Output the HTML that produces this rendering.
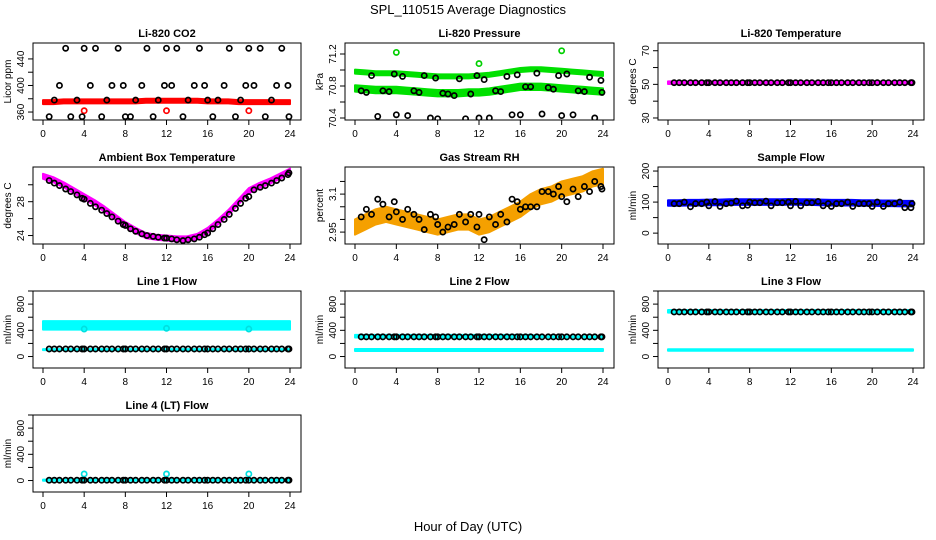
<!DOCTYPE html>
<html><head><meta charset="utf-8"><style>
html,body{margin:0;padding:0;background:#fff;}
svg{display:block;font-family:"Liberation Sans",sans-serif;}
</style></head><body>
<svg id="chart" width="936" height="540" viewBox="0 0 936 540">
<text x="468" y="14" text-anchor="middle" font-size="13">SPL_110515  Average Diagnostics</text>
<text x="468" y="531" text-anchor="middle" font-size="13">Hour of Day (UTC)</text>
</svg>
<script>
const hours = [0,1,2,3,4,5,6,7,8,9,10,11,12,13,14,15,16,17,18,19,20,21,22,23,24];
const times = [0.6,1.1,1.6,2.2,2.7,3.3,3.8,4.0,4.6,5.1,5.7,6.2,6.7,7.3,7.8,8.0,8.5,9.0,9.6,10.1,10.7,11.2,11.8,12.0,12.5,13.0,13.6,14.1,14.7,15.2,15.7,16.0,16.5,17.0,17.6,18.1,18.7,19.2,19.7,20.0,20.5,21.1,21.6,22.2,22.7,23.2,23.8,23.9];
const xTicks = [0,4,8,12,16,20,24];
const outlierHours = [4,12,20];

const co2Center = [375,375,376,376,376,376,376,376,376,376,377,377,377,377,377,377,376,376,376,375,375,375,375,375,375];
const co2Spread = [3,3,3,3,3,3,3,3,3,3,3,3,3,3,3,3,3,3,3,3,3,3,3,3,3];
const co2Points = [353,378,400,456,353,378,353,456,400,456,353,378,400,456,400,353,353,378,400,456,353,378,400,456,400,456,353,378,400,456,400,378,353,378,400,456,353,378,400,456,400,456,353,378,400,456,400,353];
const co2Outliers = [362,362,362];

const presUpCenter = [70.98,70.97,70.96,70.96,70.96,70.95,70.94,70.93,70.92,70.92,70.92,70.92,70.93,70.94,70.96,70.98,71.0,71.01,71.01,71.0,70.99,70.98,70.97,70.96,70.95];
const presUpSpread = [0.025,0.025,0.025,0.025,0.025,0.025,0.025,0.025,0.025,0.025,0.025,0.025,0.025,0.025,0.025,0.025,0.025,0.025,0.025,0.025,0.025,0.025,0.025,0.025,0.025];
const presLoCenter = [70.77,70.76,70.75,70.75,70.75,70.74,70.73,70.72,70.71,70.71,70.71,70.72,70.72,70.73,70.75,70.77,70.79,70.79,70.79,70.78,70.77,70.76,70.75,70.74,70.73];
const presLoSpread = [0.04,0.04,0.04,0.04,0.04,0.04,0.04,0.04,0.04,0.04,0.04,0.04,0.04,0.04,0.04,0.04,0.04,0.04,0.04,0.04,0.04,0.04,0.04,0.04,0.04];
const presPoints = [70.74,70.72,70.93,70.42,70.74,70.73,70.95,70.44,70.92,70.43,70.74,70.72,70.93,70.40,70.90,70.39,70.71,70.70,70.68,70.89,70.39,70.70,70.93,70.40,70.88,70.40,70.74,70.73,70.92,70.44,70.94,70.44,70.79,70.79,70.96,70.45,70.78,70.76,70.93,70.43,70.95,70.44,70.74,70.73,70.91,70.40,70.87,70.72];
const presOutliers = [71.22,71.08,71.24];

const ltCenter = [51,51,51,51,51,51,51,51,51,51,51,51,51,51,51,51,51,51,51,51,51,51,51,51,51];
const ltSpread = [0.8,0.8,0.8,0.8,0.8,0.8,0.8,0.8,0.8,0.8,0.8,0.8,0.8,0.8,0.8,0.8,0.8,0.8,0.8,0.8,0.8,0.8,0.8,0.8,0.8];
const ltPoints = [51,51,51,51,51,51,51,51,51,51,51,51,51,51,51,51,51,51,51,51,51,51,51,51,51,51,51,51,51,51,51,51,51,51,51,51,51,51,51,51,51,51,51,51,51,51,51,51];

const ambCenter = [31.0,30.6,30.0,29.3,28.6,27.9,27.1,26.2,25.3,24.6,24.0,23.8,23.7,23.6,23.6,23.9,24.6,25.6,26.7,28.0,29.3,29.9,30.4,31.0,31.6];
const ambSpread = [0.3,0.3,0.3,0.3,0.3,0.3,0.3,0.3,0.3,0.3,0.3,0.3,0.3,0.3,0.3,0.3,0.3,0.3,0.3,0.3,0.3,0.3,0.3,0.3,0.3];
const ambPoints = [30.5,30.2,29.9,29.5,29.2,28.8,28.4,28.3,27.8,27.4,27.0,26.6,26.2,25.7,25.3,25.2,24.8,24.5,24.2,24.0,23.9,23.8,23.7,23.7,23.6,23.5,23.4,23.5,23.6,23.8,24.1,24.3,24.8,25.3,25.9,26.5,27.2,27.8,28.4,28.6,29.4,29.7,29.9,30.2,30.5,30.8,31.2,31.4];

const rhCenter = [2.97,2.99,3.01,3.02,3.01,3.00,2.99,2.98,2.97,2.98,2.99,2.99,2.97,2.98,3.00,3.02,3.04,3.07,3.09,3.10,3.12,3.13,3.14,3.16,3.17];
const rhSpread = [0.03,0.03,0.03,0.03,0.03,0.03,0.03,0.03,0.03,0.03,0.03,0.03,0.03,0.03,0.03,0.03,0.03,0.03,0.03,0.03,0.03,0.03,0.03,0.03,0.03];
const rhPoints = [3.01,3.04,3.02,3.08,3.06,3.01,3.07,3.03,3.00,3.04,3.02,3.00,2.96,3.02,3.01,2.98,2.95,2.97,2.98,3.02,2.99,3.02,2.97,3.02,2.92,3.01,2.98,3.02,2.99,3.08,3.07,3.04,3.05,3.05,3.05,3.11,3.11,3.10,3.13,3.09,3.07,3.12,3.09,3.13,3.11,3.15,3.13,3.12];

const sfCenter = [97,97,98,98,99,99,100,100,100,100,100,100,101,100,100,99,98,98,98,97,97,96,96,95,95];
const sfSpread = [9,9,9,9,9,9,9,9,9,9,9,9,9,9,9,9,9,9,9,9,9,9,9,9,9];
const sfPoints = [95,95,100,85,95,95,100,88,102,86,95,97,103,88,90,100,98,98,103,88,98,98,100,88,102,88,98,98,102,88,95,86,95,95,100,86,95,95,95,86,100,86,95,95,100,82,82,95];

const l1HighCenter = [475,475,475,475,475,475,475,475,475,475,475,475,475,475,475,475,475,475,475,475,475,475,475,475,475];
const l1HighSpread = [65,65,65,65,65,65,65,65,65,65,65,65,65,65,65,65,65,65,65,65,65,65,65,65,65];
const l1LowCenter = [105,105,105,105,105,105,105,105,105,105,105,105,105,105,105,105,105,105,105,105,105,105,105,105,105];
const l1LowSpread = [8,8,8,8,8,8,8,8,8,8,8,8,8,8,8,8,8,8,8,8,8,8,8,8,8];
const l1Points = [115,115,115,115,115,115,115,115,115,115,115,115,115,115,115,115,115,115,115,115,115,115,115,115,115,115,115,115,115,115,115,115,115,115,115,115,115,115,115,115,115,115,115,115,115,115,115,115];
const l1Outliers = [420,430,420];

const l2HighCenter = [310,310,310,310,310,310,310,310,310,310,310,310,310,310,310,310,310,310,305,300,300,300,300,300,300];
const l2HighSpread = [20,20,20,20,20,20,20,20,20,20,20,20,20,20,20,20,20,20,8,8,8,8,8,8,8];
const l2LowCenter = [100,100,100,100,100,100,100,100,100,100,100,100,100,100,100,100,100,100,100,100,100,100,100,100,100];
const l2LowSpread = [15,15,15,15,15,15,15,15,15,15,15,15,15,15,15,15,15,15,15,15,15,15,15,15,15];
const l2Points = [300,300,300,300,300,300,300,300,300,300,300,300,300,300,300,300,300,300,300,300,300,300,300,300,300,300,300,300,300,300,300,300,300,300,300,300,300,300,300,300,300,300,300,300,300,300,300,300];

const l3HighCenter = [690,690,690,690,690,690,690,690,690,690,690,690,690,690,690,690,690,690,690,690,690,690,690,690,690];
const l3HighSpread = [20,20,20,20,20,20,20,20,20,20,20,20,20,20,20,20,20,20,20,20,20,20,20,20,20];
const l3LowCenter = [100,100,100,100,100,100,100,100,100,100,100,100,100,100,100,100,100,100,100,100,100,100,100,100,100];
const l3LowSpread = [12,12,12,12,12,12,12,12,12,12,12,12,12,12,12,12,12,12,12,12,12,12,12,12,12];
const l3Points = [680,680,680,680,680,680,680,680,680,680,680,680,680,680,680,680,680,680,680,680,680,680,680,680,680,680,680,680,680,680,680,680,680,680,680,680,680,680,680,680,680,680,680,680,680,680,680,680];

const l4Center = [5,5,5,5,5,5,5,5,5,5,5,5,5,5,5,5,5,5,5,5,5,5,5,5,5];
const l4Spread = [8,8,8,8,8,8,8,8,8,8,8,8,8,8,8,8,8,8,8,8,8,8,8,8,8];
const l4Points = [5,5,5,5,5,5,5,5,5,5,5,5,5,5,5,5,5,5,5,5,5,5,5,5,5,5,5,5,5,5,5,5,5,5,5,5,5,5,5,5,5,5,5,5,5,5,5,5];
const l4Outliers = [100,100,100];

const NS = 'http://www.w3.org/2000/svg';
const svg = document.getElementById('chart');
const colX0 = [43,355,668], colX24 = [290,603,913];
function mk(tag, attrs, parent){const e=document.createElementNS(NS,tag);for(const k in attrs)e.setAttribute(k,attrs[k]);(parent||svg).appendChild(e);return e;}

function panel(key, col, row, title, ylab, ylim, yTicks, yLabels){
  const g = mk('g',{});
  
  
  const top = 43 + 124*row, h = 77;
  const x0 = colX0[col], x24 = colX24[col];
  const left = x0 - 10, right = x24 + 11;
  const xs = v => x0 + (x24 - x0) * v / 24;
  const ys = v => top + h * (ylim[1] - v) / (ylim[1] - ylim[0]);
  const p = {g, xs, ys, top, h, left, right};
  const clip = mk('clipPath',{id:'clip-'+key}, g);
  mk('rect',{x:left,y:top,width:right-left,height:h}, clip);
  p.plot = mk('g',{'clip-path':'url(#clip-'+key+')'}, g);
  
  
  const box = mk('rect',{x:left,y:top,width:right-left,height:h,fill:'none',stroke:'#000','stroke-width':1}, g);
  
  
  const t = mk('text',{x:(left+right)/2,y:top-6,'text-anchor':'middle','font-size':11,'font-weight':'bold'}, g);
  t.textContent = title;
  
  
  const by = top + h;
  mk('line',{x1:xs(0),x2:xs(24),y1:by,y2:by,stroke:'#000'}, g);
  xTicks.forEach(v=>{
    mk('line',{x1:xs(v),x2:xs(v),y1:by,y2:by+5,stroke:'#000'}, g);
    const tl = mk('text',{x:xs(v),y:by+17,'text-anchor':'middle','font-size':10}, g);
    tl.textContent = v;
    
    
  });
  mk('line',{x1:left,x2:left,y1:ys(yTicks[0]),y2:ys(yTicks[yTicks.length-1]),stroke:'#000'}, g);
  yTicks.forEach(v=>{
    mk('line',{x1:left-5,x2:left,y1:ys(v),y2:ys(v),stroke:'#000'}, g);
  });
  yLabels.forEach(v=>{
    const tl = mk('text',{x:0,y:0,'text-anchor':'middle','font-size':10,transform:`translate(${left-9},${ys(v)}) rotate(-90)`}, g);
    tl.textContent = v;
    
    
  });
  const yl = mk('text',{x:0,y:0,'text-anchor':'middle','font-size':10,transform:`translate(${left-22},${top+h/2}) rotate(-90)`}, g);
  yl.textContent = ylab;
  
  
  return p;
}
function band(p, center, spread, color, name){
  let pts = [];
  hours.forEach((hh,i)=>pts.push(p.xs(hh)+','+p.ys(center[i]+spread[i])));
  for(let i=hours.length-1;i>=0;i--) pts.push(p.xs(hours[i])+','+p.ys(center[i]-spread[i]));
  const e = mk('polygon',{points:pts.join(' '),fill:color,stroke:color,'stroke-width':2,'stroke-linejoin':'round'}, p.plot);
  
  
}
function points(p, tArr, vArr, color, name){
  const n = Math.min(tArr.length, vArr.length);
  for(let i=0;i<n;i++){
    const c = mk('circle',{cx:p.xs(tArr[i]),cy:p.ys(vArr[i]),r:2.6,fill:'none',stroke:color,'stroke-width':1.7}, p.plot);
    
    
  }
}

let p;
p = panel('co2',0,0,'Li-820 CO2','Licor ppm',[348,464],[360,380,400,420,440],[360,400,440]);
band(p, co2Center, co2Spread, '#ff0000', 'co2-band');
points(p, outlierHours, co2Outliers, '#ff0000', 'co2-outlier');
points(p, times, co2Points, '#000', 'co2-point');

p = panel('pressure',1,0,'Li-820 Pressure','kPa',[70.375,71.3375],[70.4,70.6,70.8,71.0,71.2],[70.4,70.8,71.2]);
band(p, presUpCenter, presUpSpread, '#00e000', 'pressure-upper-band');
band(p, presLoCenter, presLoSpread, '#00e000', 'pressure-lower-band');
points(p, outlierHours, presOutliers, '#00d000', 'pressure-outlier');
points(p, times, presPoints, '#000', 'pressure-point');

p = panel('li-temp',2,0,'Li-820 Temperature','degrees C',[28.8,74.6],[30,40,50,60,70],[30,50,70]);
band(p, ltCenter, ltSpread, '#ff00ff', 'li-temp-band');
points(p, times, ltPoints, '#000', 'li-temp-point');

p = panel('ambient',0,1,'Ambient Box Temperature','degrees C',[23.0,32.1],[24,26,28,30],[24,28]);
band(p, ambCenter, ambSpread, '#ff00ff', 'ambient-band');
points(p, times, ambPoints, '#000', 'ambient-point');

p = panel('rh',1,1,'Gas Stream RH','percent',[2.903,3.207],[2.95,3.00,3.05,3.10,3.15],[2.95,3.10]);
band(p, rhCenter, rhSpread, '#f5a000', 'rh-band');
points(p, times, rhPoints, '#000', 'rh-point');

p = panel('sample-flow',2,1,'Sample Flow','ml/min',[-35,213],[0,50,100,150,200],[0,100,200]);
band(p, sfCenter, sfSpread, '#0000ff', 'sample-flow-band');
points(p, times, sfPoints, '#000', 'sample-flow-point');

const flowTicks=[0,200,400,600,800,1000], flowLabels=[0,400,800];
p = panel('line1',0,2,'Line 1 Flow','ml/min',[-175,1000],flowTicks,flowLabels);
band(p, l1HighCenter, l1HighSpread, '#00ffff', 'line1-high-band');
band(p, l1LowCenter, l1LowSpread, '#00ffff', 'line1-low-band');
points(p, outlierHours, l1Outliers, '#00e0e0', 'line1-outlier');
points(p, times, l1Points, '#000', 'line1-point');

p = panel('line2',1,2,'Line 2 Flow','ml/min',[-175,1000],flowTicks,flowLabels);
band(p, l2HighCenter, l2HighSpread, '#00ffff', 'line2-high-band');
band(p, l2LowCenter, l2LowSpread, '#00ffff', 'line2-low-band');
points(p, times, l2Points, '#000', 'line2-point');

p = panel('line3',2,2,'Line 3 Flow','ml/min',[-175,1000],flowTicks,flowLabels);
band(p, l3HighCenter, l3HighSpread, '#00ffff', 'line3-high-band');
band(p, l3LowCenter, l3LowSpread, '#00ffff', 'line3-low-band');
points(p, times, l3Points, '#000', 'line3-point');

p = panel('line4',0,3,'Line 4 (LT) Flow','ml/min',[-175,1000],flowTicks,flowLabels);
band(p, l4Center, l4Spread, '#00ffff', 'line4-band');
points(p, outlierHours, l4Outliers, '#00e0e0', 'line4-outlier');
points(p, times, l4Points, '#000', 'line4-point');
</script>
</body></html>
